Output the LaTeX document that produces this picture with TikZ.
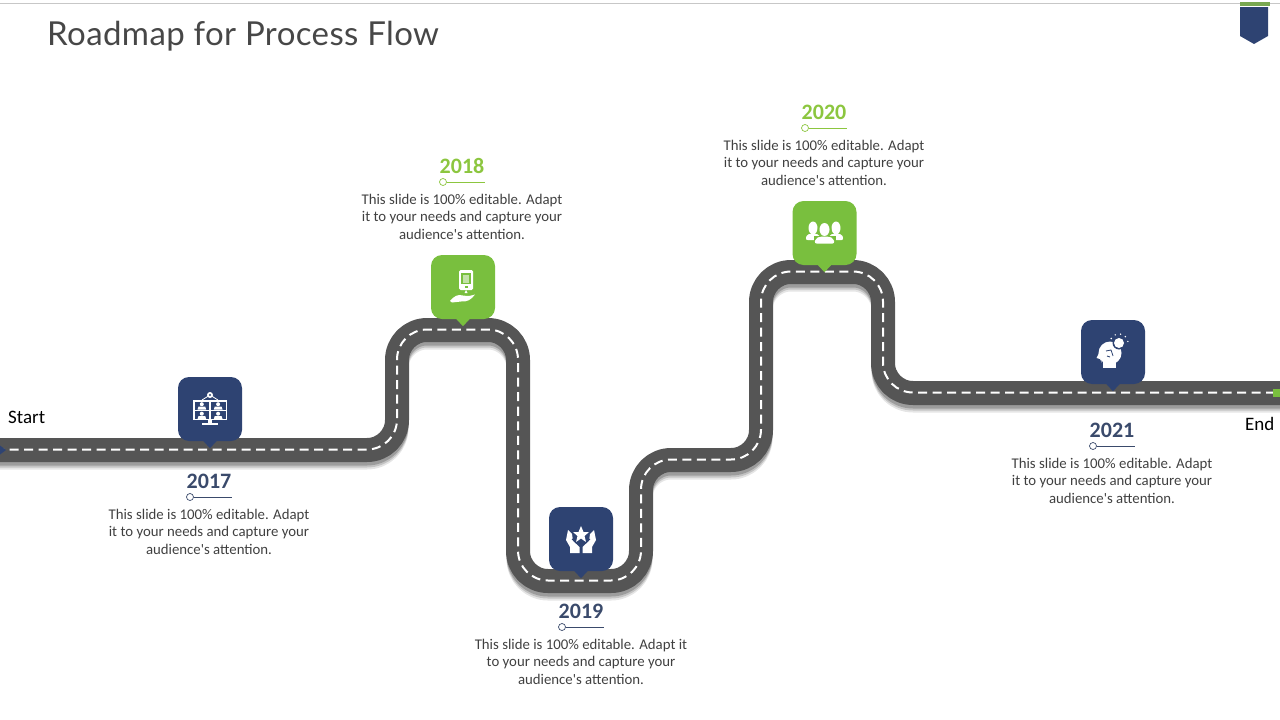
\documentclass[tikz,border=0pt]{standalone}
\usepackage{fontspec}
\setmainfont{Carlito}
\newfontfamily\titlefont[LetterSpace=1.2]{Lato}
\usetikzlibrary{positioning}
\definecolor{navy}{HTML}{2E4372}
\definecolor{leaf}{HTML}{79BF3E}
\definecolor{yearleaf}{HTML}{8CC63F}
\definecolor{yearnavy}{HTML}{3A4A6B}
\definecolor{asphalt}{HTML}{555555}
\definecolor{bodytext}{HTML}{404040}
\begin{document}
\begin{tikzpicture}[x=1pt,y=-1pt,
  pin/.style={rectangle,fill=#1,minimum width=64pt,minimum height=64pt,rounded corners=11pt,inner sep=0pt},
  year/.style={font=\fontsize{22}{22}\selectfont\bfseries,text=#1,inner sep=0pt},
  blurb/.style={font=\fontsize{14.8}{17.5}\selectfont,text=bodytext,align=center,inner sep=0pt,anchor=north},
  dot/.style={circle,draw=#1,fill=white,line width=0.7pt,minimum size=7pt,inner sep=0pt},
  tag/.style={font=\fontsize{19}{19}\selectfont,text=black,inner sep=0pt,anchor=west},
  road/.style={rounded corners=30pt,line join=round}]
\useasboundingbox (0,0) rectangle (1280,720);
\draw[black!22,line width=1pt] (0,3) -- (1280,3);
% title and ribbon
\node[font=\titlefont\fontsize{33}{33}\selectfont,text=black!72,anchor=west,inner sep=0pt] (title) at (47,36) {Roadmap for Process Flow};
\fill[navy] (1240,7) -- (1268,7) -- (1268,36) -- (1254,44) -- (1240,36) -- cycle;
\fill[leaf!80!black!85] (1239.5,2) rectangle (1270,5.5);
% road
\def\roadpath{(-5,450) -- (397,450) -- (397,330) -- (518,330) -- (518,581) -- (641,581) -- (641,460) -- (761,460) -- (761,272) -- (883,272) -- (883,393) -- (1285,393)}
\foreach \s/\o in {8/0.1,6/0.15,4/0.2} {
  \draw[road,black,line width=23pt,opacity=\o,shift={(0,\s)}] \roadpath;
}
\draw[road,asphalt,line width=24pt] \roadpath;
\draw[road,white,line width=2pt,dash pattern=on 9pt off 5.5pt,shift={(0,-0.5)}] \roadpath;
\fill[navy] (0,445.5) -- (6,450) -- (0,454.5) -- cycle;
\fill[leaf] (1273,388.5) rectangle (1280,397);
\node[tag] (start) at (8,417) {Start};
\node[tag] (end) at (1245,424) {End};
% pins
\foreach \x/\y/\c/\n in {210/409/navy/a,463/287/leaf/b,581/539/navy/c,824.5/233/leaf/d,1113/352/navy/e} {
  \node[pin=\c] (pin\n) at (\x,\y) {};
  \fill[\c] ([xshift=-7pt,yshift=0.5pt]pin\n.south) -- ([yshift=-7pt]pin\n.south) -- ([xshift=7pt,yshift=0.5pt]pin\n.south) -- cycle;
}
% years with rule and text
\foreach \x/\y/\c/\t/\n in {%
  209/481/yearnavy/2017/a,462/166/yearleaf/2018/b,581/611/yearnavy/2019/c,824/112/yearleaf/2020/d,1112/430/yearnavy/2021/e} {
  \node[year=\c] (year\n) at (\x,\y) {\t};
  \node[dot=\c] (dot\n) at (\x-19,\y+16) {};
  \coordinate (rule\n) at (\x+23,\y+16);
  \draw[\c,line width=0.8pt] (dot\n) -- (rule\n);
}
\node[blurb] (texta) at (209,507) {\strut This slide is 100\% editable. Adapt\\it to your needs and capture your\\audience\textquotesingle s attention.};
\node[blurb] (textb) at (462,192) {\strut This slide is 100\% editable. Adapt\\it to your needs and capture your\\audience\textquotesingle s attention.};
\node[blurb] (textc) at (581,637) {\strut This slide is 100\% editable. Adapt it\\to your needs and capture your\\audience\textquotesingle s attention.};
\node[blurb] (textd) at (824,138) {\strut This slide is 100\% editable. Adapt\\it to your needs and capture your\\audience\textquotesingle s attention.};
\node[blurb] (texte) at (1112,456) {\strut This slide is 100\% editable. Adapt\\it to your needs and capture your\\audience\textquotesingle s attention.};
% icon 2017
\begin{scope}[shift={(pina.center)}]
\fill[white] (-17,-9) rectangle (17,11);
\fill[white] (0,-14) circle (3pt);
\draw[white,line width=0.8pt] (-8,-9) -- (0,-14) -- (8,-9);
\fill[navy] (0,-14) circle (1.2pt);
\fill[white] (-2,11) rectangle (2,14);
\fill[white] (-8,14) rectangle (8,16);
\foreach \u/\v in {-15.5/-7.5,0.8/-7.5,-15.5/2,0.8/2} {
  \fill[navy] (\u,\v) rectangle +(14.7,8);
  \fill[white] (\u+7.3,\v+2.7) circle (2pt);
  \fill[white] (\u+3,\v+8) -- (\u+4,\v+5) -- (\u+10.7,\v+5) -- (\u+11.7,\v+8) -- cycle;
}
\end{scope}
% icon 2018
\begin{scope}[shift={(pinb.center)}]
\fill[white,rounded corners=1.5pt] (-4,-17) rectangle (10,3);
\fill[leaf] (-2,-14) rectangle (8,-3);
\fill[white!55!leaf] (0,-12.5) rectangle (6,-4.5);
\fill[leaf] (1.5,-1.5) rectangle (4.5,1);
\fill[white] (3,3) -- (4.5,6) -- (1.5,6) -- cycle;
\fill[white] (-13,14) .. controls (-9,9) and (-5,7) .. (0,8.5) .. controls (5,9.5) and (9,8.5) .. (12,7.5) .. controls (8,13) and (4,15) .. (-2,14.5) -- (-11,15.5) -- cycle;
\end{scope}
% icon 2019
\begin{scope}[shift={(pinc.center)}]
\fill[white] (0,-13) -- (2.5,-7) -- (8,-7) -- (3.5,-3) -- (5,3) -- (0,-0.5) -- (-5,3) -- (-3.5,-3) -- (-8,-7) -- (-2.5,-7) -- cycle;
\fill[white] (-13,-9) -- (-9,-5) -- (-8,2) -- (-1.5,8) -- (-1.5,14) -- (-11,14) -- (-11,8) -- (-15,1) -- cycle;
\fill[white] (13,-9) -- (9,-5) -- (8,2) -- (1.5,8) -- (1.5,14) -- (11,14) -- (11,8) -- (15,1) -- cycle;
\draw[navy,line width=1pt] (-9,0) -- (-3,5) (9,0) -- (3,5);
\end{scope}
% icon 2020
\begin{scope}[shift={(pind.center)}]
\foreach \u in {-11.5,11.5} {
  \fill[white] (\u,-5) ellipse (4.5pt and 6.5pt);
  \fill[white,rounded corners=2pt] (\u-7.5,7) -- (\u-6,1) -- (\u+6,1) -- (\u+7.5,7) -- cycle;
}
\fill[leaf] (0,-3) circle (7pt);
\fill[leaf] (-11,11) rectangle (11,3);
\fill[white] (0,-3.5) ellipse (5pt and 6.5pt);
\fill[white,rounded corners=2pt] (-10,10.5) -- (-9,5.5) -- (-4,3.5) -- (4,3.5) -- (9,5.5) -- (10,10.5) -- cycle;
\end{scope}
% icon 2021
\begin{scope}[shift={(pine.center)}]
\fill[white] (-3,1) circle (11.5pt);
\fill[white] (-10,6) rectangle (3,16);
\fill[white] (-14,1) -- (-16.5,6) -- (-13,7) -- (-11,11) -- cycle;
\draw[navy,line width=0.8pt] (-7,-1) -- (-2,-2) -- (0,4) (-6,4) -- (-3,5);
\fill[navy] (6,-9) circle (6.5pt);
\fill[white] (6,-9) circle (5pt);
\foreach \a in {-60,-25,10,45,80} {
  \fill[white] (6,-9) ++(\a-90:9) circle (0.8pt);
}
\end{scope}
\end{tikzpicture}
\end{document}
